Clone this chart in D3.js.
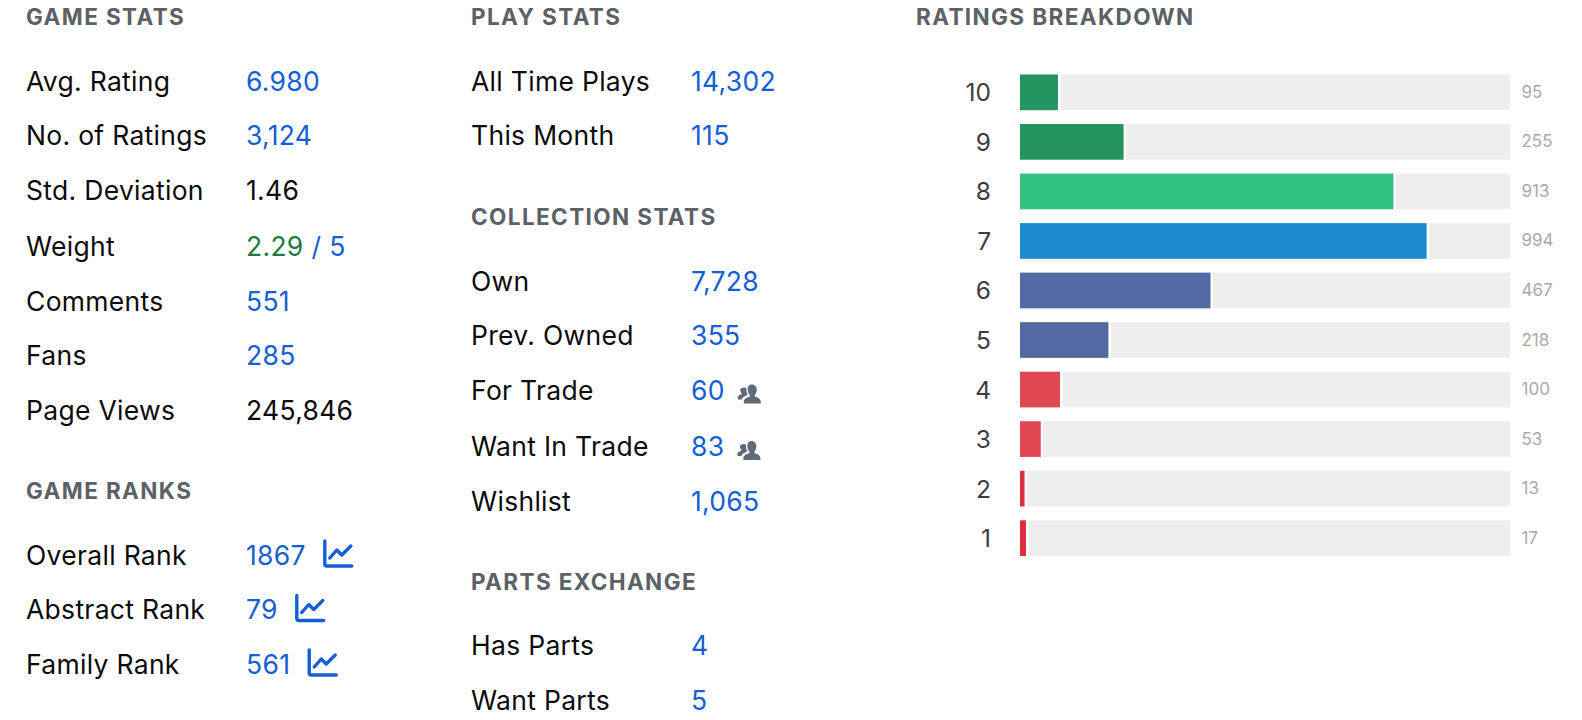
<!DOCTYPE html>
<html>
<head>
<meta charset="utf-8">
<script src="https://cdn.jsdelivr.net/npm/d3@7/dist/d3.min.js"></script>
<style>
html,body{margin:0;padding:0;background:#fff;overflow:hidden}
text{font-family:Inter,"Open Sans",sans-serif}
</style>
</head>
<body>
<svg id="c" width="1582" height="720"></svg>
<script>
const gameLabels = ["Avg. Rating","No. of Ratings","Std. Deviation","Weight","Comments","Fans","Page Views"];
const gameValues = ["6.980","3,124","1.46","2.29","551","285","245,846"];
const rankLabels = ["Overall Rank","Abstract Rank","Family Rank"];
const rankValues = ["1867","79","561"];
const playLabels = ["All Time Plays","This Month"];
const playValues = ["14,302","115"];
const collectionLabels = ["Own","Prev. Owned","For Trade","Want In Trade","Wishlist"];
const collectionValues = ["7,728","355","60","83","1,065"];
const partsLabels = ["Has Parts","Want Parts"];
const partsValues = ["4","5"];
const ratingCategories = ["10","9","8","7","6","5","4","3","2","1"];
const ratingCounts = [95,255,913,994,467,218,100,53,13,17];
const ratingColors = ["#249561","#249561","#2fc482","#1d8acd","#5369a2","#5369a2","#df4751","#df4751","#db303b","#db303b"];

const BLUE="#1360d2", INK="#0b0b0b", HEAD="#5b6166";
const svg=d3.select("#c");
const FS=26.5, HS=22.5, LS=0.3;

function heading(x,y,t){
  svg.append("text").attr("x",x).attr("y",y).attr("font-size",HS).attr("font-weight",700)
    .attr("letter-spacing",1.4).attr("fill",HEAD).text(t);
}
const trendPath="M1 1V24a2 2 0 0 0 2 2H28M6 18L13 10L18 15L27 6";
const peoplePath="M14 1c3.2 0 5 2.4 5 5.2 0 2.2-.9 4-2 5.2v1.6c2.6 1 6 2.2 6 5V20H6v-2c0-2.8 3.4-4 6-5v-1.6c-1.1-1.2-2-3-2-5.2C10 3.400 10.800 1 14 1zM6.500 4c1 0 1.800.3 2.400.9-.5 1.800-.2 4.300 1 6.200v.5c-2.300.9-5.100 2.100-5.800 4.400H0v-2c0-1.900 2-2.600 3.800-3.300v-1C3 9 2.500 7.800 2.500 6.600 2.500 5 4 4 6.500 4z";

function rows(x,vx,ys,labels,values,extras){
  labels.forEach((l,i)=>{
    svg.append("text").attr("x",x).attr("y",ys[i]+8.500).attr("font-size",FS).attr("letter-spacing",LS).attr("fill",INK).text(l);
    const colored=extras&&extras.weight===i;
    const v=svg.append("text").attr("x",vx).attr("y",ys[i]+8.500).attr("font-size",FS).attr("letter-spacing",LS)
      .attr("fill",extras&&extras.black&&extras.black.includes(i)?INK:colored?"#1c7c3e":BLUE).text(values[i]);
    let end=vx+v.node().getComputedTextLength();
    if(colored){
      svg.append("text").attr("x",end+8).attr("y",ys[i]+8.500).attr("font-size",FS).attr("letter-spacing",LS).attr("fill",BLUE).text("/ 5");
    }
    if(extras&&extras.trend){
      svg.append("path").attr("d",trendPath).attr("transform",`translate(${end+18},${ys[i]-16})`)
        .attr("fill","none").attr("stroke",BLUE).attr("stroke-width",3.4).attr("stroke-linecap","round").attr("stroke-linejoin","round");
    }
    if(extras&&extras.people&&extras.people.includes(i)){
      svg.append("path").attr("d",peoplePath).attr("transform",`translate(${end+13},${ys[i]-7.500})`)
        .attr("fill","#5f6b78");
    }
  });
}

heading(26,24.500,"GAME STATS");
rows(26,246,[82,136,191,247,302,356,411],gameLabels,gameValues,{black:[2,6],weight:3});
heading(26,498.500,"GAME RANKS");
rows(26,246,[556,610.500,665],rankLabels,rankValues,{trend:true});

heading(471,24.500,"PLAY STATS");
rows(471,691,[82,136],playLabels,playValues);
heading(471,225,"COLLECTION STATS");
rows(471,691,[282,336.500,391,447.500,502],collectionLabels,collectionValues,{people:[2,3]});
heading(471,589.500,"PARTS EXCHANGE");
rows(471,691,[646.500,701],partsLabels,partsValues);

heading(916,24.500,"RATINGS BREAKDOWN");

const x=d3.scaleLinear().domain([0,1195]).range([1020,1510]);
const y=d3.scaleBand().domain(ratingCategories).range([74.500,556]).paddingInner(0.28).paddingOuter(0);
const g=svg.append("g");
const rowsG=g.selectAll("g").data(ratingCategories).join("g");
rowsG.append("rect").attr("x",x(0)).attr("y",c=>y(c)).attr("width",x.range()[1]-x(0)).attr("height",y.bandwidth()).attr("fill","#eeeeee");
rowsG.each(function(c,i){
  const w=Math.max(4.500,x(ratingCounts[i])-x(0)-1);
  const s=d3.select(this);
  s.append("rect").attr("x",x(0)+w).attr("y",y(c)).attr("width",2.500).attr("height",y.bandwidth()).attr("fill","#fff");
  s.append("rect").attr("x",x(0)).attr("y",y(c)).attr("width",w).attr("height",y.bandwidth()).attr("fill",ratingColors[i]);
  s.append("text").attr("x",991).attr("y",y(c)+y.bandwidth()/2+9).attr("text-anchor","end").attr("font-size",24.500).attr("fill","#3c3c3c").text(c);
  s.append("text").attr("x",1521.500).attr("y",y(c)+y.bandwidth()/2+5.500).attr("font-size",17).attr("fill","#a9a9a9").text(ratingCounts[i]);
});
</script>
</body>
</html>
